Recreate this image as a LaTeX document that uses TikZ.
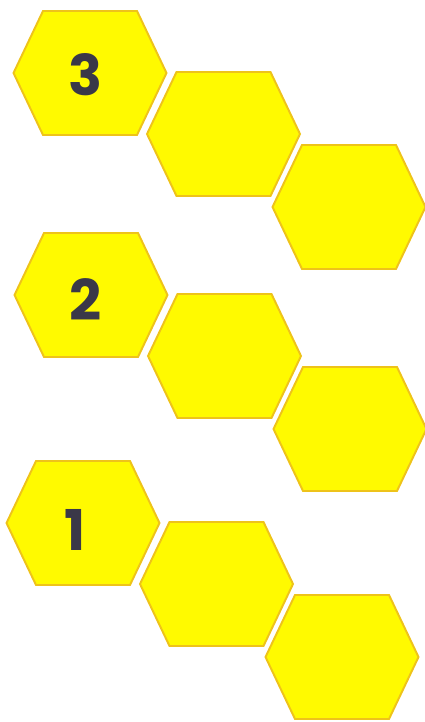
\documentclass[tikz,border=0pt]{standalone}
\usepackage{fontspec}
\setsansfont{Poppins}
\definecolor{hexfill}{HTML}{FFFA00}
\definecolor{hexline}{HTML}{EEC31A}
\definecolor{numcol}{HTML}{3A3848}
\tikzset{
  hexcell/.style={fill=hexfill, draw=hexline, line width=1.1pt, line join=miter},
  hexnum/.style={inner sep=0pt, text=numcol, font=\fontsize{32}{32}\selectfont\sffamily\bfseries}
}
\begin{document}
\begin{tikzpicture}[x=0.02cm, y=-0.02cm]
  \useasboundingbox (0,0) rectangle (425,722);
  \foreach \gx/\gy/\num/\nx/\ny in {0/0/3/86/75, 1/222/2/86/299.5, -7/450/1/75/529.5} {
    \foreach \cx/\cy in {90/73, 223.5/134, 349/207}
      \draw[hexcell] (\gx+\cx-76.5,\gy+\cy) -- ++(29.5,-62) -- ++(94,0)
        -- ++(29.5,62) -- ++(-29.5,62) -- ++(-94,0) -- cycle;
    \node[hexnum] (num\num) at (\nx,\ny) {\num};
  }
\end{tikzpicture}
\end{document}
